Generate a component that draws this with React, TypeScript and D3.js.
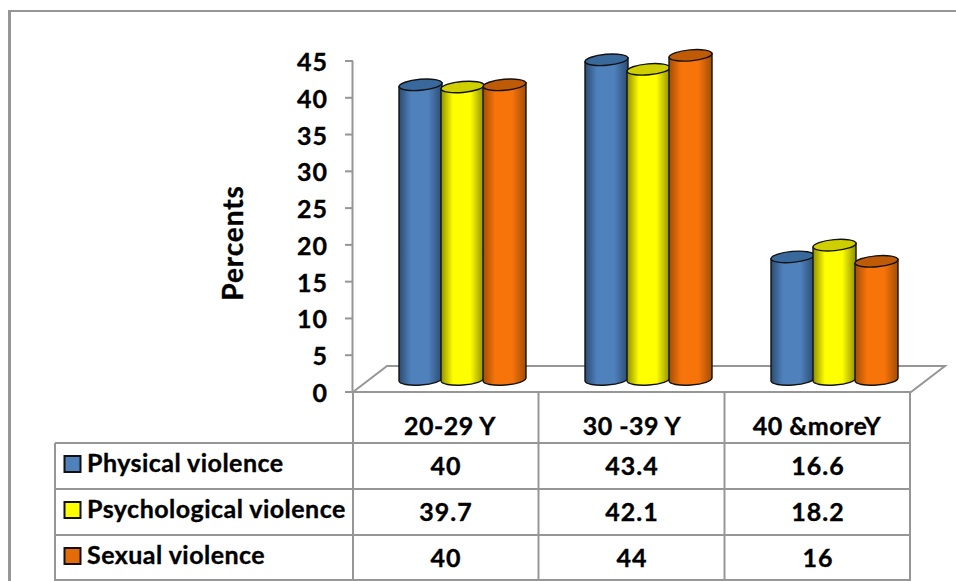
import React from "react";
import * as d3 from "d3";

const categories = ["20-29 Y", "30 -39 Y", "40 &moreY"];
const seriesNames = ["Physical violence", "Psychological violence", "Sexual violence"];
const physical = [40, 43.4, 16.6];
const psychological = [39.7, 42.1, 18.2];
const sexual = [40, 44, 16];
const seriesValues = [physical, psychological, sexual];
const valueLabels = [["40", "43.4", "16.6"], ["39.7", "42.1", "18.2"], ["40", "44", "16"]];
const ticks = [0, 5, 10, 15, 20, 25, 30, 35, 40, 45];
const main = ["#4f81bd", "#ffff00", "#f7740b"];
const dark = ["#2b4c72", "#8f8f00", "#a34d05"];
const topFill = ["#38689c", "#cfcf00", "#bf5a06"];
const legendFill = ["#4f81bd", "#ffff00", "#e36c09"];
const grey = "#969696";
const font = "Lato, Carlito, sans-serif";
const categoryNudge = [4, 0, -1];

export default function App() {
  const y = d3.scaleLinear().domain([0, 45]).range([392, 61]);
  const x = d3.scaleBand().domain(categories).range([353, 911]);
  const inner = d3.scaleBand().domain(seriesNames).range([46, 172]);
  const rowTops = [443, 489, 535];
  const depth = 11;
  const heavy = { stroke: "#000", strokeWidth: 0.35 };
  return (
    <svg width={956} height={581} style={{ position: "absolute", left: 0, top: 0, background: "#fff" }}>
      <defs>
        {main.map((c, i) => (
          <linearGradient key={i} id={`g${i}`} x1="0" x2="1" y1="0" y2="0">
            <stop offset="0" stopColor={dark[i]} />
            <stop offset="0.28" stopColor={c} />
            <stop offset="0.68" stopColor={c} />
            <stop offset="1" stopColor={dark[i]} />
          </linearGradient>
        ))}
      </defs>
      <rect x={8} y={10} width={3} height={571} fill={grey} />
      <rect x={8} y={10} width={948} height={2} fill={grey} />

      {/* floor */}
      <path d="M353 392L387 366H945L911 392Z" fill="#fff" stroke={grey} strokeWidth={2} />
      {/* axis */}
      <line x1={352.5} x2={352.5} y1={y(45)} y2={y(0)} stroke={grey} strokeWidth={2} />
      {ticks.map((t) => (
        <g key={t}>
          <line x1={345} x2={353} y1={y(t)} y2={y(t)} stroke={grey} strokeWidth={2} />
          <text x={328} y={y(t) + 10} textAnchor="end" fontFamily={font} fontWeight={700} fontSize={25} letterSpacing={1} fill="#000" {...heavy}>
            {t}
          </text>
        </g>
      ))}
      <text
        transform="translate(243,243) rotate(-90)"
        textAnchor="middle"
        fontFamily={font}
        fontWeight={700}
        fontSize={28}
        letterSpacing={0.9}
        fill="#000"
        {...heavy}
      >
        Percents
      </text>

      {/* cylinders */}
      {categories.map((c, ci) =>
        seriesNames.map((s, si) => {
          const x0 = x(c)! + inner(s)!;
          const w = inner.bandwidth() + 1;
          const cx = x0 + w / 2;
          const top = y(seriesValues[si][ci]) - depth;
          const base = y(0) - depth;
          const ry = 5.5;
          const rx = w / 2;
          const body = `M${x0} ${top}V${base}A${rx} ${ry} -4 0 0 ${x0 + w} ${base - 3}V${top - 4}Z`;
          return (
            <g key={`${c}-${s}`} stroke="#111" strokeWidth={1.4}>
              <path d={body} fill={`url(#g${si})`} />
              <ellipse
                cx={cx}
                cy={top - 2}
                rx={rx}
                ry={ry}
                transform={`rotate(-5 ${cx} ${top - 2})`}
                fill={topFill[si]}
              />
            </g>
          );
        })
      )}

      {/* table */}
      <g stroke={grey} strokeWidth={2}>
        <line x1={353} x2={353} y1={392} y2={581} />
        <line x1={538.5} x2={538.5} y1={392} y2={581} />
        <line x1={724.5} x2={724.5} y1={392} y2={581} />
        <line x1={910} x2={910} y1={392} y2={581} />
        <line x1={55} x2={55} y1={443} y2={581} />
        {rowTops.map((r) => (
          <line key={r} x1={55} x2={910} y1={r} y2={r} />
        ))}
        <line x1={55} x2={910} y1={580} y2={580} />
      </g>
      {categories.map((c, ci) => (
        <text
          key={c}
          x={x(c)! + x.bandwidth() / 2 + categoryNudge[ci]}
          y={435}
          textAnchor="middle"
          fontFamily={font}
          fontWeight={700}
          fontSize={25}
          letterSpacing={0.5}
          fill="#000"
          {...heavy}
        >
          {c}
        </text>
      ))}
      {seriesNames.map((s, si) => (
        <g key={s}>
          <rect
            x={64.5}
            y={rowTops[si] + 13}
            width={16}
            height={16}
            fill={legendFill[si]}
            stroke="#111"
            strokeWidth={2}
          />
          <text x={87} y={rowTops[si] + 29} fontFamily={font} fontWeight={700} fontSize={25} letterSpacing={0.47} fill="#000" {...heavy}>
            {s}
          </text>
          {categories.map((c, ci) => (
            <text
              key={c}
              x={x(c)! + x.bandwidth() / 2}
              y={rowTops[si] + 32}
              textAnchor="middle"
              fontFamily={font}
              fontWeight={700}
              fontSize={25}
              letterSpacing={1}
              fill="#000"
              {...heavy}
            >
              {valueLabels[si][ci]}
            </text>
          ))}
        </g>
      ))}
    </svg>
  );
}
